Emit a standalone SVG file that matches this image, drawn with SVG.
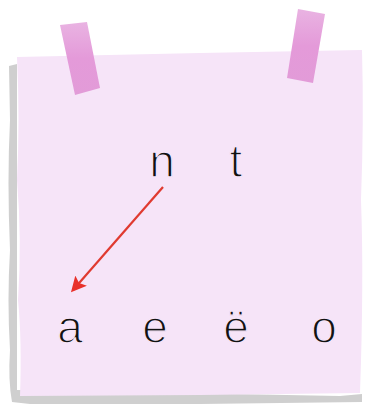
<svg xmlns="http://www.w3.org/2000/svg" width="367" height="414" viewBox="0 0 367 414">
<style>
.lt{font-family:"Liberation Sans",Arial,sans-serif;font-size:46px;fill:#111;text-anchor:middle;stroke:#f6e4f8;stroke-width:1.4}
.tape{fill:#e4a0da;opacity:0.95}
</style>
<defs>
<linearGradient id="tg" x1="0" y1="0" x2="0" y2="1">
<stop offset="0" stop-color="#e9b3e2"/>
<stop offset="0.5" stop-color="#e49ad9"/>
<stop offset="1" stop-color="#e29bd8"/>
</linearGradient>
<marker id="ah" viewBox="0 0 10 10" refX="8" refY="5" markerWidth="7" markerHeight="7" orient="auto" markerUnits="strokeWidth">
<path d="M0,0 L10,5 L0,10 L2,5 Z" fill="#e8302a"/>
</marker>
</defs>
<rect width="367" height="414" fill="#ffffff"/>
<g id="paper">
<path d="M9,66 L17,64 L17,390 L340,396 L362,394 L362,402 L200,404 L30,404 L12,402 Q8,380 10,350 Q7,300 10,250 Q7,180 10,120 Z" fill="#cfcfcf"/>
<path d="M17,57 L200,53 L362,50 Q364,120 361,200 Q364,280 360,393 L200,395 L20,396 Q22,340 18,300 Q22,240 17,180 Q20,120 17,57 Z" fill="#f6e4f8"/>
</g>
<g id="tapes">
<polygon points="60,25 87,22 100,88 75,95" fill="url(#tg)"/>
<polygon points="298,9 325,14 313,83 287,78" fill="url(#tg)"/>
</g>
<g id="connectors">
<line x1="163" y1="187" x2="73" y2="290" stroke="#e03a30" stroke-width="2.2" marker-end="url(#ah)"/>
</g>
<g id="node-n"><text class="lt" x="162" y="177">n</text></g>
<g id="node-t"><text class="lt" x="236" y="177">t</text></g>
<g id="node-a"><text class="lt" x="70" y="343">a</text></g>
<g id="node-e"><text class="lt" x="155" y="343">e</text></g>
<g id="node-yo"><text class="lt" x="236" y="343">ë</text></g>
<g id="node-o"><text class="lt" x="324" y="343">o</text></g>
</svg>
